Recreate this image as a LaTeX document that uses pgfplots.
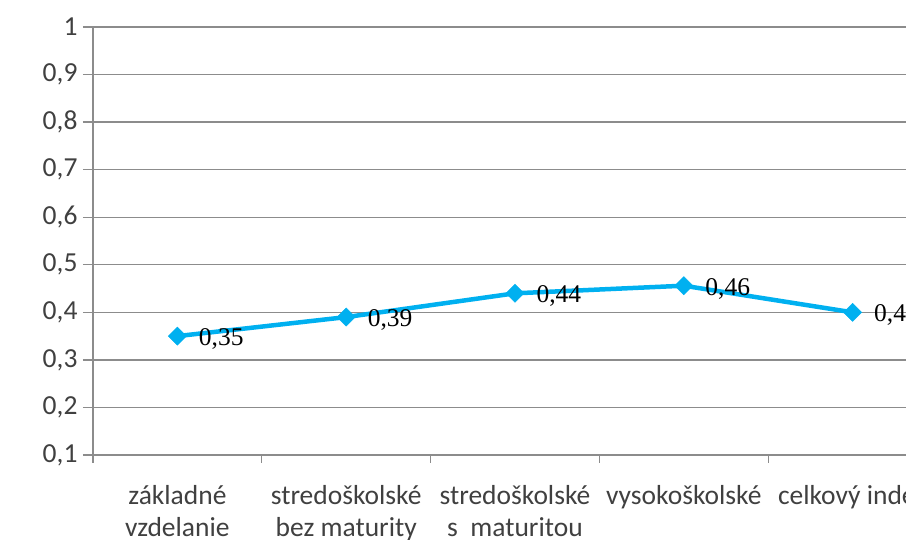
\documentclass[border=0pt]{standalone}
\usepackage{fontspec}
\setmainfont{Carlito}
\newfontfamily\timesfont{Liberation Serif}
\usepackage{pgfplots}
\pgfplotsset{compat=1.18}
\definecolor{linecol}{HTML}{00B0F0}
\definecolor{gridcol}{HTML}{8C8C8C}
\definecolor{labcol}{HTML}{404040}
\begin{document}
\begin{tikzpicture}
\begin{axis}[
  at={(93bp,85bp)}, anchor=south west,
  scale only axis,
  width=844bp, height=428bp,
  xmin=-0.5, xmax=4.5,
  ymin=0.1, ymax=1,
  ytick={0.1,0.2,...,1.01},
  xtick={0,1,2,3,4},
  xticklabels={{základné\\vzdelanie},{stredoškolské\\bez maturity},{stredoškolské\\s\ \ maturitou},{vysokoškolské},{celkový index}},
  minor xtick={-0.5,0.5,1.5,2.5,3.5,4.5},
  major x tick style={draw=none},
  minor tick length=8bp,
  major tick length=10bp,
  tick align=outside,
  axis x line*=bottom,
  axis y line*=left,
  axis line style={draw=gridcol, line width=1.3bp, -},
  tick style={draw=gridcol, line width=1.3bp},
  ymajorgrids,
  grid style={draw=gridcol, line width=1.3bp},
  /pgf/number format/assume math mode=true,
  /pgf/number format/use comma,
  yticklabel style={font=\fontsize{27.5bp}{30bp}\selectfont, text=labcol, xshift=-2bp},
  xticklabel style={font=\fontsize{27.5bp}{31.5bp}\selectfont, text=labcol, align=center, yshift=-17bp},
  clip=false,
  nodes near coords={\pgfmathprintnumber[use comma]{\pgfplotspointmeta}},
  every node near coord/.append style={font=\timesfont\fontsize{25.5bp}{28bp}\selectfont, text=black, anchor=west, xshift=18bp, yshift=-3bp},
]
\addplot[color=linecol, line width=4.5bp, mark=square*, mark size=6.4bp, mark options={rotate=45, fill=linecol, draw=linecol, line width=0.5bp}]
coordinates {(0,0.35) (1,0.39) (2,0.44) (3,0.456) (4,0.40)};
\end{axis}
\pgfresetboundingbox
\path[use as bounding box] (0,0) rectangle (906bp,540bp);
\end{tikzpicture}
\end{document}
